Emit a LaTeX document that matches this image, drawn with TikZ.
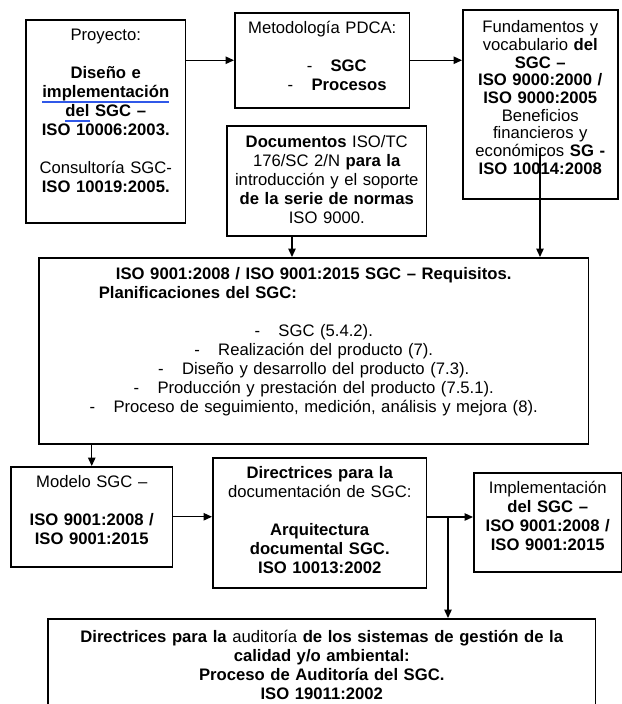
\documentclass[tikz,border=0pt]{standalone}
\usepackage{fontspec}
\setmainfont{Liberation Sans}
\usetikzlibrary{arrows.meta}

\definecolor{spellblue}{RGB}{48,88,232}
\newsavebox{\spellbox}
\newcommand{\spell}[1]{\sbox{\spellbox}{#1}\rlap{\color{spellblue}\rule[-3pt]{\wd\spellbox}{1.1pt}}\usebox{\spellbox}}

\begin{document}
\begin{tikzpicture}[
    x=0.6pt, y=-0.6pt,
    box/.style={draw, line width=0.9pt, inner sep=0pt, anchor=north west, align=center, font=\fontsize{10}{11.4}\selectfont},
    arrow/.style={-{Triangle[length=5pt,width=4.4pt]}, line width=0.8pt}
]
\useasboundingbox (0,0) rectangle (622,704);
\clip (0,0) rectangle (622,704);

% Top row
\node[box, text width=96pt, text height=12.6pt, text depth=109.2pt] (proyecto) at (25,19) {
    Proyecto:\\ ~\\
    \textbf{Diseño e}\\
    \textbf{\spell{implementación}}\\
    \textbf{\spell{del} SGC –}\\
    \textbf{ISO 10006:2003.}\\ ~\\
    Consultoría SGC-\\
    \textbf{ISO 10019:2005.}
};

\node[box, text width=105pt, text height=12.6pt, text depth=44.4pt] (metodo) at (234,12) {
    Metodología PDCA:\\ ~\\
    \makebox[\linewidth][l]{\hspace*{43.2pt}-\hspace{11pt}\textbf{SGC}}\\
    \makebox[\linewidth][l]{\hspace*{31.8pt}-\hspace{11pt}\textbf{Procesos}}
};

\node[box, text width=93pt, text height=13.8pt, text depth=99.6pt, font=\fontsize{10}{10.6}\selectfont] (fundam) at (462,9) {
    Fundamentos y\\
    vocabulario \textbf{del}\\
    \textbf{SGC –}\\
    \textbf{ISO 9000:2000 /}\\
    \textbf{ISO 9000:2005}\\
    Beneficios\\
    financieros y\\
    económicos \textbf{SG -}\\
    \textbf{ISO 10014:2008}
};

\node[box, text width=120pt, text height=13.2pt, text depth=52.8pt] (docs) at (226,125) {
    \textbf{Documentos} ISO/TC\\
    176/SC 2/N \textbf{para la}\\
    introducción y el soporte\\
    \textbf{de la serie de normas}\\
    ISO 9000.
};

% Requirements
\node[box, text width=330pt, text height=13.2pt, text depth=98.4pt] (iso) at (38,257) {
    \textbf{ISO 9001:2008 / ISO 9001:2015 SGC – Requisitos.}\\
    \makebox[\linewidth][l]{\hspace*{36pt}\textbf{Planificaciones del SGC:}}\\ ~\\
    -\hspace{11pt}SGC (5.4.2).\\
    -\hspace{11pt}Realización del producto (7).\\
    -\hspace{11pt}Diseño y desarrollo del producto (7.3).\\
    -\hspace{11pt}Producción y prestación del producto (7.5.1).\\
    -\hspace{11pt}Proceso de seguimiento, medición, análisis y mejora (8).
};

% Bottom row
\node[box, text width=97.2pt, text height=12.6pt, text depth=47.4pt] (modelo) at (10,466) {
    Modelo SGC –\\ ~\\
    \textbf{ISO 9001:2008 /}\\
    \textbf{ISO 9001:2015}
};

\node[box, text width=128.4pt, text height=12.6pt, text depth=65.4pt] (directr) at (212,457) {
    \textbf{Directrices para la}\\
    documentación de SGC:\\ ~\\
    \textbf{Arquitectura}\\
    \textbf{documental SGC.}\\
    \textbf{ISO 10013:2002}
};

\node[box, text width=88.8pt, text height=12.6pt, text depth=46.8pt] (implem) at (473,472) {
    Implementación\\
    \textbf{del SGC –}\\
    \textbf{ISO 9001:2008 /}\\
    \textbf{ISO 9001:2015}
};

\node[box, text width=328.8pt, text height=14.4pt, text depth=54pt] (audit) at (47,618) {
    \textbf{Directrices para la} auditoría \textbf{de los sistemas de gestión de la}\\
    \textbf{calidad y/o ambiental:}\\
    \textbf{Proceso de Auditoría del SGC.}\\
    \textbf{ISO 19011:2002}
};

% Connectors
\coordinate (fline) at (540,148);
\coordinate (dline) at (292,240);
\coordinate (split) at (448,517);

\draw[arrow] (proyecto.east |- metodo.west) -- (metodo.west);
\draw[arrow] (metodo.east) -- (metodo.east -| fundam.west);
\draw[arrow] (fline) -- (fline |- iso.north);
\draw[arrow] (docs.south -| dline) -- (iso.north -| dline);
\draw[arrow] (iso.south -| modelo.north) -- (modelo.north);
\draw[arrow] (modelo.east) -- (modelo.east -| directr.west);
\draw[arrow] (directr.east |- split) -- (split -| implem.west);
\draw[arrow] (split) -- (split |- audit.north);

\end{tikzpicture}
\end{document}
